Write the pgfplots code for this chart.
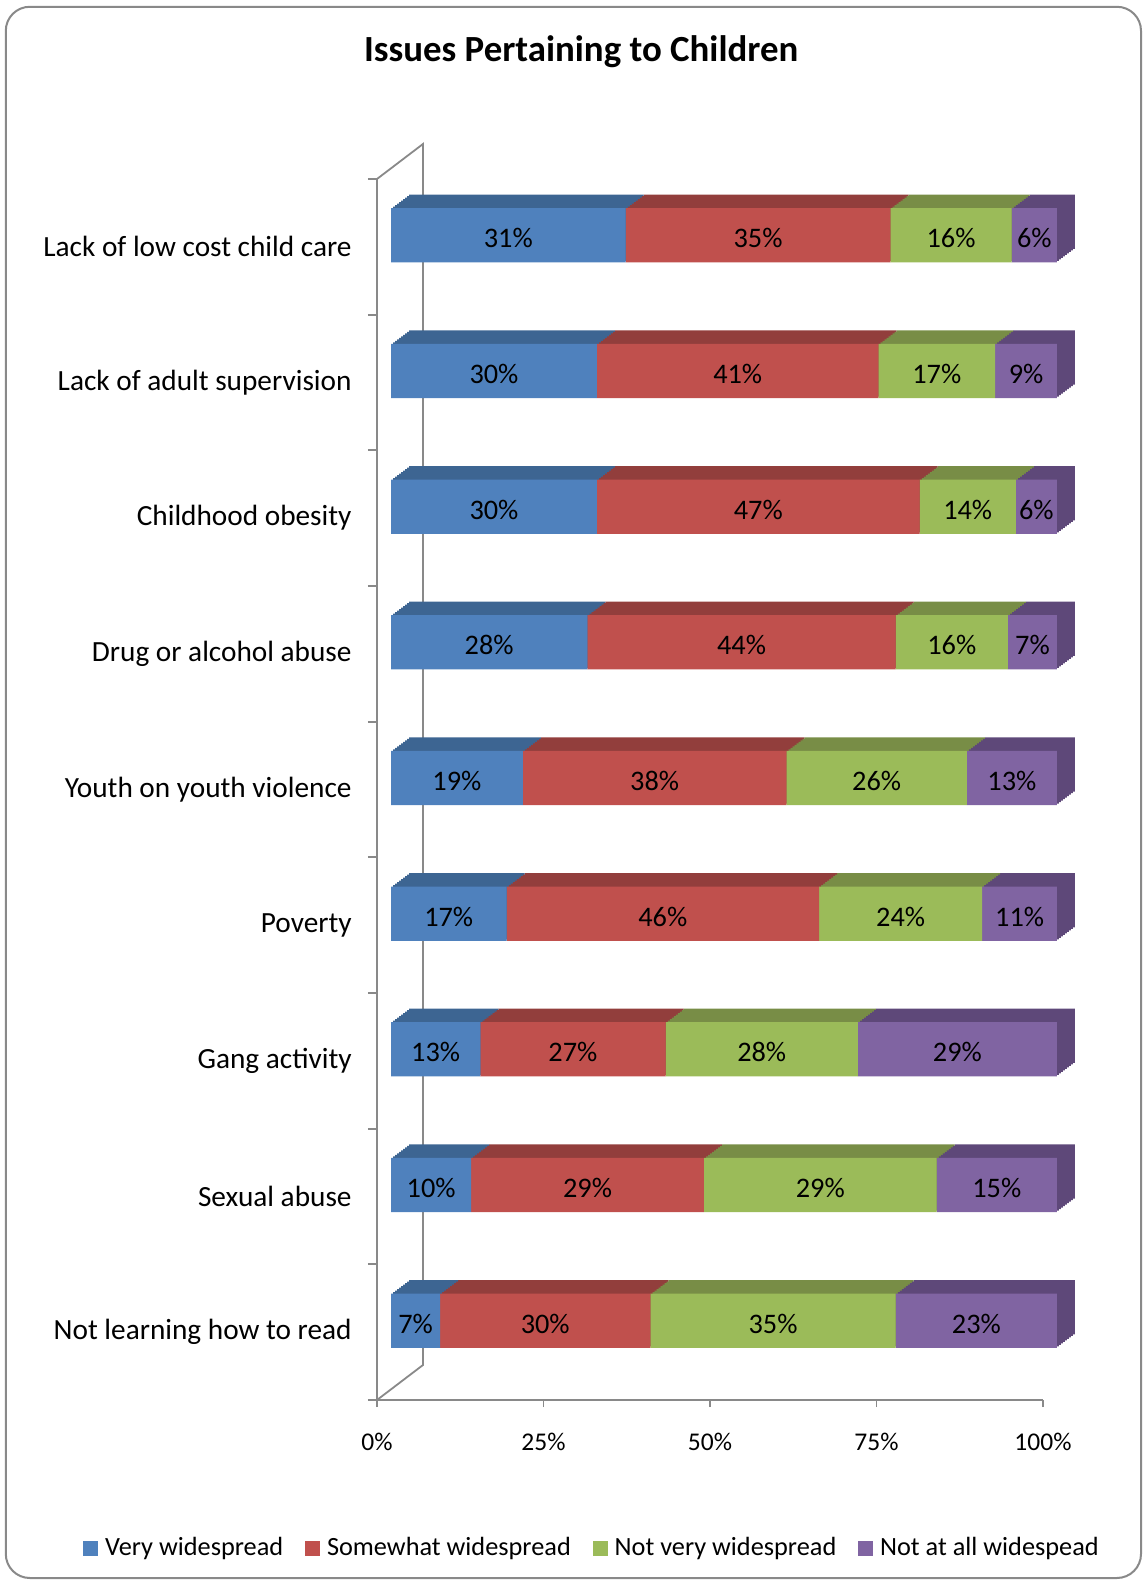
\documentclass[border=0pt]{standalone}
\usepackage{fontspec}
\setmainfont{Carlito}
\usepackage{pgfplots}
\usepackage{pgfplotstable}
\pgfplotsset{compat=1.18}

\definecolor{c1}{HTML}{4F81BD}
\definecolor{c2}{HTML}{C0504D}
\definecolor{c3}{HTML}{9BBB59}
\definecolor{c4}{HTML}{8064A2}
\definecolor{c1t}{HTML}{3D6592}
\definecolor{c2t}{HTML}{923E3C}
\definecolor{c3t}{HTML}{788D46}
\definecolor{c4t}{HTML}{5E4879}
\definecolor{gr}{HTML}{898989}

% raw answers (row = issue, top to bottom), bars are scaled to 100%
\pgfplotstableread{
a  b  c  d
31 35 16 6
30 41 17 9
30 47 14 6
28 44 16 7
19 38 26 13
17 46 24 11
13 27 28 29
10 29 29 15
7  30 35 23
}\data
\pgfplotstablecreatecol[create col/expr={\thisrow{a}+\thisrow{b}+\thisrow{c}+\thisrow{d}}]{tot}\data
\pgfplotstablecreatecol[create col/expr={100*\thisrow{a}/\thisrow{tot}}]{na}\data
\pgfplotstablecreatecol[create col/expr={100*\thisrow{b}/\thisrow{tot}}]{nb}\data
\pgfplotstablecreatecol[create col/expr={100*\thisrow{c}/\thisrow{tot}}]{nc}\data
\pgfplotstablecreatecol[create col/expr={100*\thisrow{d}/\thisrow{tot}}]{nd}\data

\pgfplotsset{
  base/.style={scale only axis, width=333bp, height=610.5bp,
    xmin=0, xmax=100, ymin=-0.5, ymax=8.5, anchor=south west, clip=false},
  bars/.style={base, hide axis, xbar stacked, bar width=0.4},
  sq/.style={legend image code/.code={\fill[#1] (0bp,-3.5bp) rectangle (7bp,3.5bp);}},
}

\newcommand\seg[2]{\addplot[fill=#2, draw=none] table[x=n#1, y expr=8-\coordindex]{\data};}
\newcommand\lseg[2]{\addplot[fill=#2, draw=none]
    table[x=n#1, y expr=8-\coordindex, meta=#1]{\data};}

\begin{document}
\begin{tikzpicture}
\useasboundingbox (-188.5bp,-90.5bp) rectangle (385.5bp,700bp);
\draw[gr, line width=1bp, rounded corners=12bp] (-185.6bp,-89bp) rectangle (382bp,696.6bp);

% back wall
\draw[gr, line width=0.9bp] (0,610.5bp) -- (23bp,628bp) -- (23bp,17.5bp) -- (0,0);

% depth of the bars: shifted copies behind the front faces
\foreach \i in {9,...,1}{
\begin{axis}[bars, at={(7bp+\i*1bp, 5.75bp+\i*0.75bp)}]
\seg{a}{c1t}
\seg{b}{c2t}
\seg{c}{c3t}
\seg{d}{c4t}
\end{axis}
}

% front faces with value labels
\begin{axis}[bars, at={(7bp,5.75bp)},
  point meta=explicit symbolic,
  nodes near coords={\pgfplotspointmeta\%},
  every node near coord/.append style={anchor=center, inner sep=0pt,
    font=\fontsize{14.2}{17}\selectfont, text=black, yshift=-1.5bp},
]
\lseg{a}{c1}
\lseg{b}{c2}
\lseg{c}{c3}
\lseg{d}{c4}
\end{axis}

% axes, ticks, labels, legend
\begin{axis}[base,
  axis lines*=left,
  axis line style={gr, line width=0.9bp},
  tick style={gr, line width=0.9bp},
  tick align=outside,
  major tick length=3.5bp,
  minor tick length=4.5bp,
  xtick={0,25,...,100},
  xticklabels={0\%,25\%,50\%,75\%,100\%},
  xticklabel style={font=\fontsize{12.8}{15}\selectfont, anchor=base, yshift=-21.5bp},
  ytick={0,...,8},
  yticklabels={Not learning how to read, Sexual abuse, Gang activity, Poverty,
    Youth on youth violence, Drug or alcohol abuse, Childhood obesity,
    Lack of adult supervision, Lack of low cost child care},
  yticklabel style={font=\fontsize{14.7}{17}\selectfont, anchor=east, inner sep=0pt,
    xshift=-9bp},
  major y tick style={draw=none},
  minor ytick={-0.5,0.5,...,8.5},
  legend columns=4,
  legend cell align=left,
  legend style={at={(-0.4414,-0.1212)}, anchor=west, draw=none, fill=none,
    inner sep=0pt, font=\fontsize{13.2}{15}\selectfont,
    nodes={inner sep=0pt},
    /tikz/every odd column/.append style={column sep=3.5bp},
    /tikz/every even column/.append style={column sep=11bp}},
]
\addlegendimage{sq=c1}\addlegendentry{Very widespread}
\addlegendimage{sq=c2}\addlegendentry{Somewhat widespread}
\addlegendimage{sq=c3}\addlegendentry{Not very widespread}
\addlegendimage{sq=c4}\addlegendentry{Not at all widespead}
\end{axis}

\node[anchor=base, font=\bfseries\fontsize{18.5}{22}\selectfont] at (102.1bp,669.2bp)
  {Issues Pertaining to Children};
\end{tikzpicture}
\end{document}
